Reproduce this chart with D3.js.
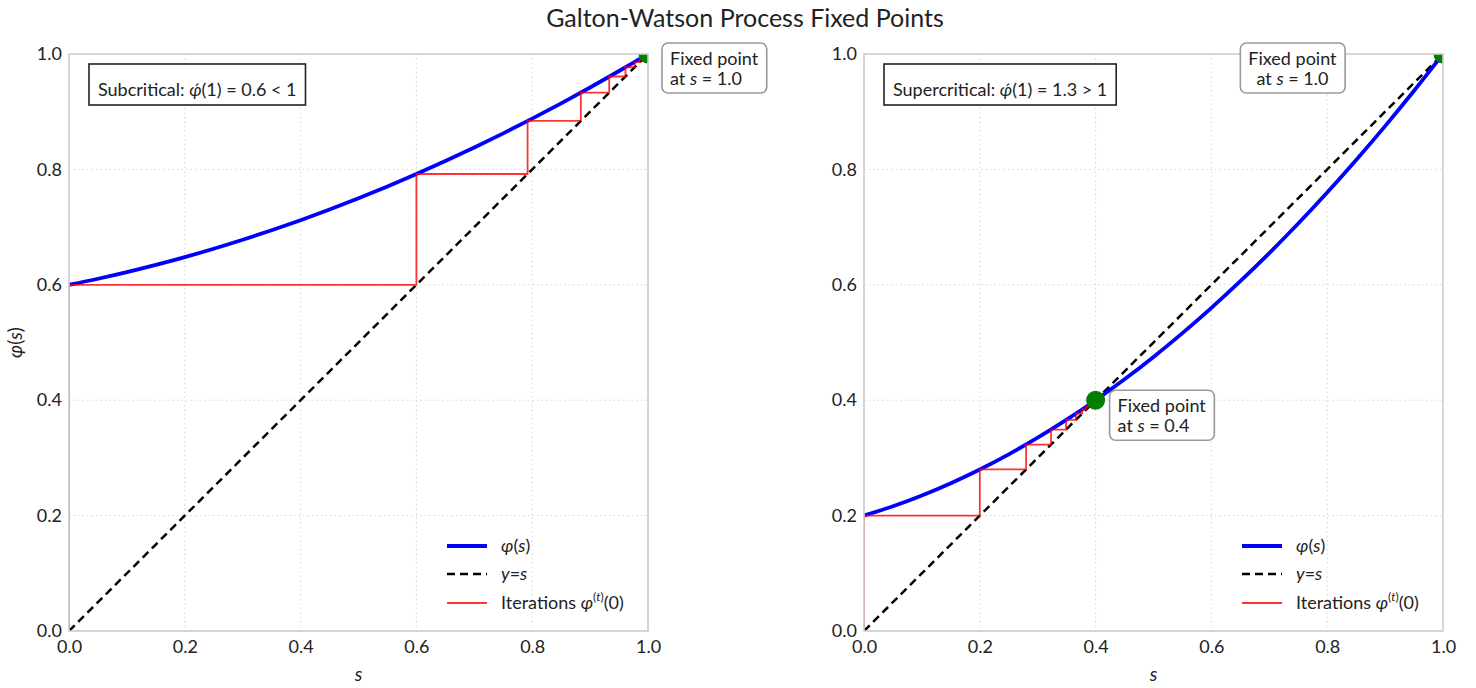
<!DOCTYPE html>
<html>
<head>
<meta charset="utf-8">
<script src="https://cdn.jsdelivr.net/npm/d3@7"></script>
<style>
body { margin: 0; background: #fff; }
svg text { font-family: "Lato", "Noto Sans", sans-serif; fill: #222; }
</style>
</head>
<body>
<svg id="chart" width="1476" height="688"></svg>
<script>
// curve samples
var sGrid = [0, 0.05, 0.1, 0.15, 0.2, 0.25, 0.3, 0.35, 0.4, 0.45, 0.5, 0.55, 0.6, 0.65, 0.7, 0.75, 0.8, 0.85, 0.9, 0.95, 1.0];
var phiSub = [0.6, 0.6105, 0.622, 0.6345, 0.648, 0.6625, 0.678, 0.6945, 0.712, 0.7305, 0.75, 0.7705, 0.792, 0.8145, 0.838, 0.8625, 0.888, 0.9145, 0.942, 0.9705, 1.0];
var phiSup = [0.2, 0.21625, 0.235, 0.25625, 0.28, 0.30625, 0.335, 0.36625, 0.4, 0.43625, 0.475, 0.51625, 0.56, 0.60625, 0.655, 0.70625, 0.76, 0.81625, 0.875, 0.93625, 1.0];

// iterates phi^(t)(0)
var iterSub = [0, 0.6, 0.792, 0.884, 0.933, 0.961, 0.977, 0.986, 0.992, 0.995, 0.997];
var iterSup = [0, 0.2, 0.28, 0.323, 0.349, 0.366, 0.377, 0.384, 0.389, 0.392, 0.395];

var ticks = [0, 0.2, 0.4, 0.6, 0.8, 1.0];

var svg = d3.select("#chart");
var top_ = 54, plotH = 577, plotW = 579;
var fs = "18px";

svg.append("text")
    .attr("x", 745).attr("y", 27)
    .attr("text-anchor", "middle")
    .style("font-size", "25px")
    .text("Galton-Watson Process Fixed Points");

function drawPanel(id, left, phiVals, iters, label, fixedPts, annots, showYLabel)
{
    var x = d3.scaleLinear().domain([0, 1]).range([left, left + plotW]);
    var y = d3.scaleLinear().domain([0, 1]).range([top_ + plotH, top_]);
    var g = svg.append("g");

    g.append("clipPath").attr("id", "clip" + id)
	.append("rect")
	.attr("x", left).attr("y", top_).attr("width", plotW).attr("height", plotH);

    // grid
    g.selectAll(".gx").data(ticks.slice(1, 5)).enter().append("line")
	.attr("x1", d => x(d)).attr("x2", d => x(d))
	.attr("y1", top_).attr("y2", top_ + plotH)
	.attr("stroke", "#d5d5d5").attr("stroke-dasharray", "1.5,3");
    g.selectAll(".gy").data(ticks.slice(1, 5)).enter().append("line")
	.attr("y1", d => y(d)).attr("y2", d => y(d))
	.attr("x1", left).attr("x2", left + plotW)
	.attr("stroke", "#d5d5d5").attr("stroke-dasharray", "1.5,3");

    // axes (labels only)
    var xa = g.append("g").attr("transform", "translate(0," + (top_ + plotH) + ")")
	.call(d3.axisBottom(x).tickValues(ticks).tickFormat(d3.format(".1f")).tickSize(0).tickPadding(9));
    var ya = g.append("g").attr("transform", "translate(" + left + ",0)")
	.call(d3.axisLeft(y).tickValues(ticks).tickFormat(d3.format(".1f")).tickSize(0).tickPadding(7));
    [xa, ya].forEach(function(a) {
	a.select(".domain").remove();
	a.selectAll("text").style("font-size", fs).style("font-family", "Lato, sans-serif").attr("fill", "#222");
    });

    var plot = g.append("g").attr("clip-path", "url(#clip" + id + ")");

    // identity line
    plot.append("line")
	.attr("x1", x(0)).attr("y1", y(0)).attr("x2", x(1)).attr("y2", y(1))
	.attr("stroke", "black").attr("stroke-width", 2.5).attr("stroke-dasharray", "8,5");

    // curve
    var curvePts = sGrid.map((s, i) => [s, phiVals[i]]);
    plot.append("path")
	.attr("d", d3.line().x(d => x(d[0])).y(d => y(d[1])).curve(d3.curveCatmullRom)(curvePts))
	.attr("fill", "none").attr("stroke", "#0000ff").attr("stroke-width", 3.8);

    // cobweb
    var web = [[iters[0], 0]];
    for (let i = 0; i < iters.length - 1; i++)
    {
	web.push([iters[i], iters[i + 1]]);
	web.push([iters[i + 1], iters[i + 1]]);
    }
    plot.append("path")
	.attr("d", d3.line().x(d => x(d[0])).y(d => y(d[1]))(web))
	.attr("fill", "none").attr("stroke", "#ff0000").attr("stroke-opacity", 0.8).attr("stroke-width", 1.8);

    // fixed points
    plot.selectAll(".fp").data(fixedPts).enter().append("circle")
	.attr("cx", d => x(d)).attr("cy", d => y(d)).attr("r", 9.5)
	.attr("fill", "green");

    // spines
    g.append("rect")
	.attr("x", left).attr("y", top_).attr("width", plotW).attr("height", plotH)
	.attr("fill", "none").attr("stroke", "#cccccc").attr("stroke-width", 1.6);

    // label box
    var lb = g.append("g");
    var lt = lb.append("text").attr("x", left + 29).attr("y", top_ + 42).style("font-size", fs);
    lt.append("tspan").text(label[0]);
    lt.append("tspan").style("font-style", "italic").text("\u03c6\u0301");
    lt.append("tspan").text("(1) = " + label[1]);
    var bb = lt.node().getBBox();
    lb.insert("rect", "text")
	.attr("x", bb.x - 9).attr("y", top_ + 10).attr("width", bb.width + 18).attr("height", 41)
	.attr("fill", "white").attr("stroke", "#222").attr("stroke-width", 1.6);

    // annotations
    annots.forEach(function(a) {
	var ag = g.append("g");
	var ax = x(a.x) + a.dx, ay = y(a.y) + a.dy;
	var anchor = a.center ? "middle" : "start";
	var t1 = ag.append("text").attr("x", ax).attr("y", ay).attr("text-anchor", anchor)
	    .style("font-size", fs).text("Fixed point");
	var t2 = ag.append("text").attr("x", ax).attr("y", ay + 20).attr("text-anchor", anchor)
	    .style("font-size", fs);
	t2.append("tspan").text("at ");
	t2.append("tspan").style("font-style", "italic").text("s");
	t2.append("tspan").text(" = " + a.label);
	var b1 = t1.node().getBBox(), b2 = t2.node().getBBox();
	var bx = Math.min(b1.x, b2.x), bw = Math.max(b1.x + b1.width, b2.x + b2.width) - bx;
	ag.insert("rect", "text")
	    .attr("x", bx - 8).attr("y", b1.y - 4).attr("width", bw + 16).attr("height", b2.y + b2.height - b1.y + 8)
	    .attr("rx", 6).attr("fill", "white").attr("stroke", "#999").attr("stroke-width", 1.6);
    });

    // legend
    var lg = g.append("g").attr("transform", "translate(" + (left + 378) + "," + (top_ + 492) + ")");
    lg.append("line").attr("x1", 0).attr("x2", 40).attr("y1", 0).attr("y2", 0)
	.attr("stroke", "#0000ff").attr("stroke-width", 3.8);
    lg.append("line").attr("x1", 0).attr("x2", 40).attr("y1", 28).attr("y2", 28)
	.attr("stroke", "black").attr("stroke-width", 2.5).attr("stroke-dasharray", "8,5");
    lg.append("line").attr("x1", 0).attr("x2", 40).attr("y1", 57).attr("y2", 57)
	.attr("stroke", "#ff0000").attr("stroke-opacity", 0.8).attr("stroke-width", 1.8);
    var e1 = lg.append("text").attr("x", 54).attr("y", 6).style("font-size", fs);
    e1.append("tspan").style("font-style", "italic").text("\u03c6");
    e1.append("tspan").text("(");
    e1.append("tspan").style("font-style", "italic").text("s");
    e1.append("tspan").text(")");
    var e2 = lg.append("text").attr("x", 54).attr("y", 34).style("font-size", fs);
    e2.append("tspan").style("font-style", "italic").text("y");
    e2.append("tspan").text("=");
    e2.append("tspan").style("font-style", "italic").text("s");
    var e3 = lg.append("text").attr("x", 54).attr("y", 63).style("font-size", fs);
    e3.append("tspan").text("Iterations ");
    e3.append("tspan").style("font-style", "italic").text("\u03c6");
    e3.append("tspan").attr("dy", -8).style("font-size", "12px").text("(");
    e3.append("tspan").style("font-size", "12px").style("font-style", "italic").text("t");
    e3.append("tspan").style("font-size", "12px").text(")");
    e3.append("tspan").attr("dy", 8).text("(0)");

    // axis titles
    g.append("text").attr("x", left + plotW / 2).attr("y", 681)
	.attr("text-anchor", "middle").style("font-size", "19px").style("font-style", "italic").text("s");
    if (showYLabel)
    {
	var yl = g.append("text").attr("transform", "translate(22," + (top_ + plotH / 2) + ") rotate(-90)")
	    .attr("text-anchor", "middle").style("font-size", "19px");
	yl.append("tspan").style("font-style", "italic").text("\u03c6");
	yl.append("tspan").text("(");
	yl.append("tspan").style("font-style", "italic").text("s");
	yl.append("tspan").text(")");
    }
}

drawPanel("a", 69, phiSub, iterSub, ["Subcritical: ", "0.6 < 1"], [1.0],
	  [{x: 1.0, y: 1.0, dx: 22, dy: 11, label: "1.0", center: false}], true);
drawPanel("b", 864, phiSup, iterSup, ["Supercritical: ", "1.3 > 1"], [0.4, 1.0],
	  [{x: 0.4, y: 0.4, dx: 22, dy: 12, label: "0.4", center: false},
	   {x: 0.74, y: 1.0, dx: 0, dy: 11, label: "1.0", center: true}], false);
</script>
</body>
</html>
